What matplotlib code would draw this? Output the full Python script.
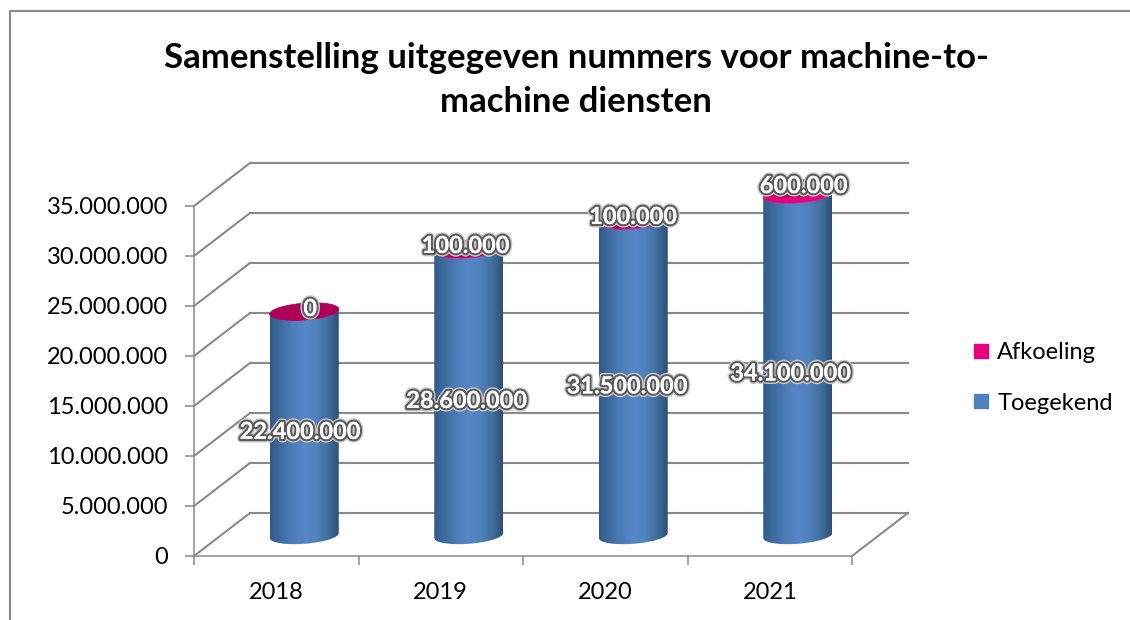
import numpy as np
import matplotlib
matplotlib.use('Agg')
import matplotlib.pyplot as plt
import matplotlib.patheffects as pe
from matplotlib.colors import LinearSegmentedColormap
from matplotlib.lines import Line2D
from matplotlib.patches import Polygon
from matplotlib.transforms import IdentityTransform

plt.rcParams['font.family'] = ['Lato', 'DejaVu Sans']

# Data
years = ['2018', '2019', '2020', '2021']
toegekend = [22400000, 28600000, 31500000, 34100000]
afkoeling = [0, 100000, 100000, 600000]
y_ticks = [0, 5000000, 10000000, 15000000, 20000000, 25000000, 30000000, 35000000]

GREY = '#8a8a8a'
depth = (56, 43)      # back wall offset in pixels
cyl_off = (28, 20.5)  # cylinder centre offset in pixels
rx, ry, tilt = 34.5, 8.3, 2.5


def dotted(v):
    return f'{v:,}'.replace(',', '.')


fig = plt.figure(figsize=(11.3, 6.2), dpi=100)
ax = fig.add_axes([194 / 1130, 64 / 620, 658 / 1130, 350 / 620])
ax.set_xlim(0, 4)
ax.set_ylim(0, 35000000)
ax.autoscale(False)
ax.patch.set_alpha(0)
for s in ['top', 'right']:
    ax.spines[s].set_visible(False)
for s in ['left', 'bottom']:
    ax.spines[s].set_color(GREY)
    ax.spines[s].set_linewidth(1.1)

ax.set_yticks(y_ticks, labels=[dotted(v) for v in y_ticks], fontsize=17)
ax.set_xticks(range(5), labels=[''] * 5)
ax.set_xticks(np.arange(4) + 0.5, labels=years, minor=True, fontsize=17)
ax.tick_params(axis='both', which='major', color=GREY, width=1.1, length=6.5, direction='out')
ax.tick_params(axis='y', pad=12)
ax.tick_params(axis='x', which='minor', length=0, pad=19)


def px(x, v, off=(0, 0)):
    p = ax.transData.transform((x, v))
    return p[0] + off[0], p[1] + off[1]


def seg(a, b, zorder=1):
    ax.add_line(Line2D([a[0], b[0]], [a[1], b[1]], color=GREY, lw=1.5,
                       transform=IdentityTransform(), clip_on=False, zorder=zorder))


# walls: diagonals on the left side and the lines on the back
for v in y_ticks:
    seg(px(0, v), px(0, v, depth))
    seg(px(0, v, depth), px(4, v, depth))
seg(px(4, 0), px(4, 0, depth))

blue = LinearSegmentedColormap.from_list('cyl', ['#2f5a8a', '#3f6da3', '#4d7eba', '#5587c8',
                                                 '#5082bd', '#41709f', '#2f4f78'])
t_low = np.linspace(np.pi, 2 * np.pi, 60)
t_all = np.linspace(0, 2 * np.pi, 120)


def side(cx, y0, y1):
    xs = cx + rx * np.cos(t_low)
    lo = y0 + tilt * np.cos(t_low) + ry * np.sin(t_low)
    hi = y1 + tilt * np.cos(t_low) + ry * np.sin(t_low)
    return np.r_[np.c_[xs, lo], np.c_[xs, hi][::-1]]


def ellipse(cx, y):
    return np.c_[cx + rx * np.cos(t_all), y + tilt * np.cos(t_all) + ry * np.sin(t_all)]


for i in range(len(years)):
    cx, y0 = px(i + 0.5, 0, cyl_off)
    _, y1 = px(i + 0.5, toegekend[i], cyl_off)
    _, y2 = px(i + 0.5, toegekend[i] + afkoeling[i], cyl_off)

    shape = Polygon(side(cx, y0, y1), closed=True, fc='none', ec='none',
                    transform=IdentityTransform(), zorder=3)
    ax.add_patch(shape)
    im = ax.imshow(np.linspace(0, 1, 256)[None, :], cmap=blue, aspect='auto', origin='lower',
                   extent=(cx - rx, cx + rx, y0 - 12, y1 + 12), transform=IdentityTransform(),
                   zorder=3, interpolation='bilinear')
    im.set_clip_box(fig.bbox)
    im.set_clip_path(shape)
    ax.add_patch(Polygon(side(cx, y1, y2), closed=True, fc='#e6007e', ec='#e6007e', lw=0.5,
                         transform=IdentityTransform(), clip_on=False, zorder=4))
    ax.add_patch(Polygon(ellipse(cx, y2), closed=True, fc='#ad0058', ec='#ad0058', lw=0.5,
                         transform=IdentityTransform(), clip_on=False, zorder=5))

# data labels
glow = [pe.withStroke(linewidth=5, foreground='#c8c8c8'),
        pe.withStroke(linewidth=3, foreground='#5a5a5a'), pe.Normal()]
nudge_blue = [-4, -2, -6, -7]
nudge_pink = [6, -3, 0, 6]
for i in range(len(years)):
    x, y = px(i + 0.5, toegekend[i] / 2, cyl_off)
    ax.text(x + nudge_blue[i], y - 8, dotted(toegekend[i]), color='white', fontsize=17, weight='bold',
            ha='center', va='center', transform=IdentityTransform(), path_effects=glow, zorder=6)
    x, y = px(i + 0.5, toegekend[i] + afkoeling[i], cyl_off)
    ax.text(x + nudge_pink[i], y + 3, dotted(afkoeling[i]), color='white', fontsize=17, weight='bold',
            ha='center', va='center', transform=IdentityTransform(), path_effects=glow, zorder=6)

fig.text(576 / 1130, 1 - 80 / 620, 'Samenstelling uitgegeven nummers voor machine-to-\nmachine diensten',
         fontsize=25, weight='bold', ha='center', va='center', linespacing=1.5, color='black')

handles = [Line2D([], [], marker='s', ls='none', ms=10.5, color='#e6007e', label='Afkoeling'),
           Line2D([], [], marker='s', ls='none', ms=10.5, color='#4f81bd', label='Toegekend')]
fig.legend(handles=handles, loc='center left', bbox_to_anchor=(969 / 1130, 1 - 378 / 620), frameon=False,
           fontsize=17, labelspacing=1.25, handlelength=1, handletextpad=0.2, borderaxespad=0, borderpad=0)

# chart border, only the top and left are inside the crop
fig.add_artist(Line2D([9.5 / 1130, 9.5 / 1130, 1], [0, 1 - 11 / 620, 1 - 11 / 620], color=GREY, lw=1.5))

fig.savefig('out.png', dpi=100)
